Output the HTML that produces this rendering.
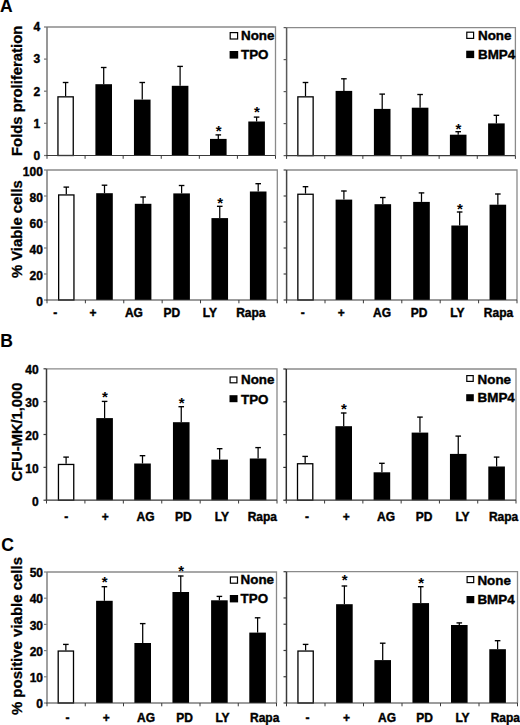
<!DOCTYPE html>
<html><head><meta charset="utf-8"><title>Figure</title>
<style>
html,body{margin:0;padding:0;background:#fff;}
body{width:520px;height:725px;overflow:hidden;}
svg{display:block;}
text{font-family:"Liberation Sans", sans-serif;font-weight:bold;fill:#000;stroke:#000;stroke-width:0.4px;}
.lg{font-size:13.4px;}
.xl{font-size:12px;}
.yl{font-size:12px;}
.yt{font-size:15px;stroke-width:0.3px;}
.let{font-size:17.5px;stroke-width:0.1px;}
.ast{font-size:15px;stroke-width:0;}
</style></head>
<body>
<svg width="520" height="725" viewBox="0 0 520 725">
<rect width="520" height="725" fill="#fff"/>
<path d="M47 27H275.5V155.5" fill="none" stroke="#8a8a8a" stroke-width="1.3"/>
<rect x="57.95" y="96.85" width="15.3" height="58.65" fill="#fff" stroke="#000" stroke-width="1.3"/>
<path d="M65.6 96.2V82.3" stroke="#000" stroke-width="1.25" fill="none"/>
<path d="M62.8 82.5H68.4" stroke="#000" stroke-width="1.35" fill="none"/>
<rect x="95.4" y="84.2" width="16.6" height="71.3" fill="#000"/>
<path d="M103.7 84.2V67.3" stroke="#000" stroke-width="1.25" fill="none"/>
<path d="M100.9 67.5H106.5" stroke="#000" stroke-width="1.35" fill="none"/>
<rect x="133.95" y="99.6" width="16.6" height="55.9" fill="#000"/>
<path d="M142.25 99.6V82.3" stroke="#000" stroke-width="1.25" fill="none"/>
<path d="M139.45 82.5H145.05" stroke="#000" stroke-width="1.35" fill="none"/>
<rect x="171.8" y="85.8" width="16.6" height="69.7" fill="#000"/>
<path d="M180.1 85.8V66.2" stroke="#000" stroke-width="1.25" fill="none"/>
<path d="M177.3 66.4H182.9" stroke="#000" stroke-width="1.35" fill="none"/>
<rect x="210" y="138.9" width="16.6" height="16.6" fill="#000"/>
<path d="M218.3 138.9V134.7" stroke="#000" stroke-width="1.25" fill="none"/>
<path d="M215.5 134.9H221.1" stroke="#000" stroke-width="1.35" fill="none"/>
<text x="218.6" y="135.9" text-anchor="middle" class="ast">*</text>
<rect x="248.3" y="121.5" width="16.6" height="34" fill="#000"/>
<path d="M256.6 121.5V116.9" stroke="#000" stroke-width="1.25" fill="none"/>
<path d="M253.8 117.1H259.4" stroke="#000" stroke-width="1.35" fill="none"/>
<text x="256.9" y="116.8" text-anchor="middle" class="ast">*</text>
<path d="M47 27V155.5" stroke="#747474" stroke-width="1.5" fill="none"/>
<path d="M44 27H47" stroke="#747474" stroke-width="1.2"/>
<path d="M44 59.1H47" stroke="#747474" stroke-width="1.2"/>
<path d="M44 91.2H47" stroke="#747474" stroke-width="1.2"/>
<path d="M44 123.3H47" stroke="#747474" stroke-width="1.2"/>
<path d="M44 155.5H47" stroke="#747474" stroke-width="1.2"/>
<path d="M46.3 155.5H275.5" stroke="#3a3a3a" stroke-width="1.2"/>
<path d="M47 155.5V158.8" stroke="#3a3a3a" stroke-width="1"/>
<path d="M85.08 155.5V158.8" stroke="#3a3a3a" stroke-width="1"/>
<path d="M123.17 155.5V158.8" stroke="#3a3a3a" stroke-width="1"/>
<path d="M161.25 155.5V158.8" stroke="#3a3a3a" stroke-width="1"/>
<path d="M199.33 155.5V158.8" stroke="#3a3a3a" stroke-width="1"/>
<path d="M237.42 155.5V158.8" stroke="#3a3a3a" stroke-width="1"/>
<path d="M275.5 155.5V158.8" stroke="#3a3a3a" stroke-width="1"/>
<path d="M286.6 27.6H515.4V155.6" fill="none" stroke="#8a8a8a" stroke-width="1.3"/>
<rect x="297.85" y="96.85" width="15.3" height="58.75" fill="#fff" stroke="#000" stroke-width="1.3"/>
<path d="M305.5 96.2V82.3" stroke="#000" stroke-width="1.25" fill="none"/>
<path d="M302.7 82.5H308.3" stroke="#000" stroke-width="1.35" fill="none"/>
<rect x="335.6" y="90.9" width="16.6" height="64.7" fill="#000"/>
<path d="M343.9 90.9V78.6" stroke="#000" stroke-width="1.25" fill="none"/>
<path d="M341.1 78.8H346.7" stroke="#000" stroke-width="1.35" fill="none"/>
<rect x="373.9" y="108.9" width="16.6" height="46.7" fill="#000"/>
<path d="M382.2 108.9V93.9" stroke="#000" stroke-width="1.25" fill="none"/>
<path d="M379.4 94.1H385" stroke="#000" stroke-width="1.35" fill="none"/>
<rect x="411.8" y="107.7" width="16.6" height="47.9" fill="#000"/>
<path d="M420.1 107.7V94.3" stroke="#000" stroke-width="1.25" fill="none"/>
<path d="M417.3 94.5H422.9" stroke="#000" stroke-width="1.35" fill="none"/>
<rect x="449.9" y="134.7" width="16.6" height="20.9" fill="#000"/>
<path d="M458.2 134.7V131.5" stroke="#000" stroke-width="1.25" fill="none"/>
<path d="M455.4 131.7H461" stroke="#000" stroke-width="1.35" fill="none"/>
<text x="458.5" y="133.6" text-anchor="middle" class="ast">*</text>
<rect x="488.1" y="123.4" width="16.6" height="32.2" fill="#000"/>
<path d="M496.4 123.4V115.1" stroke="#000" stroke-width="1.25" fill="none"/>
<path d="M493.6 115.3H499.2" stroke="#000" stroke-width="1.35" fill="none"/>
<path d="M286.6 27.6V155.6" stroke="#5a5a5a" stroke-width="1.5" fill="none"/>
<path d="M283.6 27.6H286.6" stroke="#5a5a5a" stroke-width="1.2"/>
<path d="M283.6 59.6H286.6" stroke="#5a5a5a" stroke-width="1.2"/>
<path d="M283.6 91.6H286.6" stroke="#5a5a5a" stroke-width="1.2"/>
<path d="M283.6 123.6H286.6" stroke="#5a5a5a" stroke-width="1.2"/>
<path d="M283.6 155.6H286.6" stroke="#5a5a5a" stroke-width="1.2"/>
<path d="M285.9 155.6H515.4" stroke="#3a3a3a" stroke-width="1.2"/>
<path d="M286.6 155.6V158.9" stroke="#3a3a3a" stroke-width="1"/>
<path d="M324.73 155.6V158.9" stroke="#3a3a3a" stroke-width="1"/>
<path d="M362.87 155.6V158.9" stroke="#3a3a3a" stroke-width="1"/>
<path d="M401 155.6V158.9" stroke="#3a3a3a" stroke-width="1"/>
<path d="M439.13 155.6V158.9" stroke="#3a3a3a" stroke-width="1"/>
<path d="M477.27 155.6V158.9" stroke="#3a3a3a" stroke-width="1"/>
<path d="M515.4 155.6V158.9" stroke="#3a3a3a" stroke-width="1"/>
<path d="M47 170H277.3V300" fill="none" stroke="#8a8a8a" stroke-width="1.3"/>
<rect x="58.65" y="194.95" width="15.3" height="105.05" fill="#fff" stroke="#000" stroke-width="1.3"/>
<path d="M66.3 194.3V186.9" stroke="#000" stroke-width="1.25" fill="none"/>
<path d="M63.5 187.1H69.1" stroke="#000" stroke-width="1.35" fill="none"/>
<rect x="96.2" y="193.2" width="16.6" height="106.8" fill="#000"/>
<path d="M104.5 193.2V185" stroke="#000" stroke-width="1.25" fill="none"/>
<path d="M101.7 185.2H107.3" stroke="#000" stroke-width="1.35" fill="none"/>
<rect x="134.8" y="203.8" width="16.6" height="96.2" fill="#000"/>
<path d="M143.1 203.8V196.8" stroke="#000" stroke-width="1.25" fill="none"/>
<path d="M140.3 197H145.9" stroke="#000" stroke-width="1.35" fill="none"/>
<rect x="173.3" y="193.4" width="16.6" height="106.6" fill="#000"/>
<path d="M181.6 193.4V185.3" stroke="#000" stroke-width="1.25" fill="none"/>
<path d="M178.8 185.5H184.4" stroke="#000" stroke-width="1.35" fill="none"/>
<rect x="211.45" y="218.1" width="16.6" height="81.9" fill="#000"/>
<path d="M219.75 218.1V206.1" stroke="#000" stroke-width="1.25" fill="none"/>
<path d="M216.95 206.3H222.55" stroke="#000" stroke-width="1.35" fill="none"/>
<text x="220.05" y="207.5" text-anchor="middle" class="ast">*</text>
<rect x="249.9" y="191.5" width="16.6" height="108.5" fill="#000"/>
<path d="M258.2 191.5V183.5" stroke="#000" stroke-width="1.25" fill="none"/>
<path d="M255.4 183.7H261" stroke="#000" stroke-width="1.35" fill="none"/>
<path d="M47 170V300" stroke="#7c7c7c" stroke-width="1.5" fill="none"/>
<path d="M44 170H47" stroke="#7c7c7c" stroke-width="1.2"/>
<path d="M44 196H47" stroke="#7c7c7c" stroke-width="1.2"/>
<path d="M44 222H47" stroke="#7c7c7c" stroke-width="1.2"/>
<path d="M44 248H47" stroke="#7c7c7c" stroke-width="1.2"/>
<path d="M44 274H47" stroke="#7c7c7c" stroke-width="1.2"/>
<path d="M44 300H47" stroke="#7c7c7c" stroke-width="1.2"/>
<path d="M46.3 300H277.3" stroke="#3a3a3a" stroke-width="1.2"/>
<path d="M47 300V303.3" stroke="#3a3a3a" stroke-width="1"/>
<path d="M85.38 300V303.3" stroke="#3a3a3a" stroke-width="1"/>
<path d="M123.77 300V303.3" stroke="#3a3a3a" stroke-width="1"/>
<path d="M162.15 300V303.3" stroke="#3a3a3a" stroke-width="1"/>
<path d="M200.53 300V303.3" stroke="#3a3a3a" stroke-width="1"/>
<path d="M238.92 300V303.3" stroke="#3a3a3a" stroke-width="1"/>
<path d="M277.3 300V303.3" stroke="#3a3a3a" stroke-width="1"/>
<path d="M286.6 170H517V300" fill="none" stroke="#8a8a8a" stroke-width="1.3"/>
<rect x="297.85" y="194.25" width="15.3" height="105.75" fill="#fff" stroke="#000" stroke-width="1.3"/>
<path d="M305.5 193.6V186.5" stroke="#000" stroke-width="1.25" fill="none"/>
<path d="M302.7 186.7H308.3" stroke="#000" stroke-width="1.35" fill="none"/>
<rect x="335.6" y="199.6" width="16.6" height="100.4" fill="#000"/>
<path d="M343.9 199.6V190.8" stroke="#000" stroke-width="1.25" fill="none"/>
<path d="M341.1 191H346.7" stroke="#000" stroke-width="1.35" fill="none"/>
<rect x="374.5" y="204.2" width="16.6" height="95.8" fill="#000"/>
<path d="M382.8 204.2V197.3" stroke="#000" stroke-width="1.25" fill="none"/>
<path d="M380 197.5H385.6" stroke="#000" stroke-width="1.35" fill="none"/>
<rect x="413.2" y="201.9" width="16.6" height="98.1" fill="#000"/>
<path d="M421.5 201.9V192.7" stroke="#000" stroke-width="1.25" fill="none"/>
<path d="M418.7 192.9H424.3" stroke="#000" stroke-width="1.35" fill="none"/>
<rect x="451.35" y="225.5" width="16.6" height="74.5" fill="#000"/>
<path d="M459.65 225.5V211.8" stroke="#000" stroke-width="1.25" fill="none"/>
<path d="M456.85 212H462.45" stroke="#000" stroke-width="1.35" fill="none"/>
<text x="459.95" y="213.9" text-anchor="middle" class="ast">*</text>
<rect x="489.55" y="204.7" width="16.6" height="95.3" fill="#000"/>
<path d="M497.85 204.7V193.8" stroke="#000" stroke-width="1.25" fill="none"/>
<path d="M495.05 194H500.65" stroke="#000" stroke-width="1.35" fill="none"/>
<path d="M286.6 170V300" stroke="#454545" stroke-width="1.5" fill="none"/>
<path d="M283.6 170H286.6" stroke="#454545" stroke-width="1.2"/>
<path d="M283.6 196H286.6" stroke="#454545" stroke-width="1.2"/>
<path d="M283.6 222H286.6" stroke="#454545" stroke-width="1.2"/>
<path d="M283.6 248H286.6" stroke="#454545" stroke-width="1.2"/>
<path d="M283.6 274H286.6" stroke="#454545" stroke-width="1.2"/>
<path d="M283.6 300H286.6" stroke="#454545" stroke-width="1.2"/>
<path d="M285.9 300H517" stroke="#3a3a3a" stroke-width="1.2"/>
<path d="M286.6 300V303.3" stroke="#3a3a3a" stroke-width="1"/>
<path d="M325 300V303.3" stroke="#3a3a3a" stroke-width="1"/>
<path d="M363.4 300V303.3" stroke="#3a3a3a" stroke-width="1"/>
<path d="M401.8 300V303.3" stroke="#3a3a3a" stroke-width="1"/>
<path d="M440.2 300V303.3" stroke="#3a3a3a" stroke-width="1"/>
<path d="M478.6 300V303.3" stroke="#3a3a3a" stroke-width="1"/>
<path d="M517 300V303.3" stroke="#3a3a3a" stroke-width="1"/>
<path d="M46.5 368.8H277V500.2" fill="none" stroke="#8a8a8a" stroke-width="1.3"/>
<rect x="58.45" y="464.45" width="15.3" height="35.75" fill="#fff" stroke="#000" stroke-width="1.3"/>
<path d="M66.1 463.8V456.9" stroke="#000" stroke-width="1.25" fill="none"/>
<path d="M63.3 457.1H68.9" stroke="#000" stroke-width="1.35" fill="none"/>
<rect x="96.3" y="418.1" width="16.6" height="82.1" fill="#000"/>
<path d="M104.6 418.1V401.2" stroke="#000" stroke-width="1.25" fill="none"/>
<path d="M101.8 401.4H107.4" stroke="#000" stroke-width="1.35" fill="none"/>
<text x="104.9" y="402.4" text-anchor="middle" class="ast">*</text>
<rect x="134.2" y="463.5" width="16.6" height="36.7" fill="#000"/>
<path d="M142.5 463.5V455.5" stroke="#000" stroke-width="1.25" fill="none"/>
<path d="M139.7 455.7H145.3" stroke="#000" stroke-width="1.35" fill="none"/>
<rect x="172.95" y="422.2" width="16.6" height="78" fill="#000"/>
<path d="M181.25 422.2V406.5" stroke="#000" stroke-width="1.25" fill="none"/>
<path d="M178.45 406.7H184.05" stroke="#000" stroke-width="1.35" fill="none"/>
<text x="181.55" y="408.2" text-anchor="middle" class="ast">*</text>
<rect x="211.35" y="459.6" width="16.6" height="40.6" fill="#000"/>
<path d="M219.65 459.6V448.5" stroke="#000" stroke-width="1.25" fill="none"/>
<path d="M216.85 448.7H222.45" stroke="#000" stroke-width="1.35" fill="none"/>
<rect x="249.8" y="458.5" width="16.6" height="41.7" fill="#000"/>
<path d="M258.1 458.5V447.4" stroke="#000" stroke-width="1.25" fill="none"/>
<path d="M255.3 447.6H260.9" stroke="#000" stroke-width="1.35" fill="none"/>
<path d="M46.5 368.8V500.2" stroke="#3a3a3a" stroke-width="1.5" fill="none"/>
<path d="M43.5 368.8H46.5" stroke="#3a3a3a" stroke-width="1.2"/>
<path d="M43.5 401.65H46.5" stroke="#3a3a3a" stroke-width="1.2"/>
<path d="M43.5 434.5H46.5" stroke="#3a3a3a" stroke-width="1.2"/>
<path d="M43.5 467.35H46.5" stroke="#3a3a3a" stroke-width="1.2"/>
<path d="M43.5 500.2H46.5" stroke="#3a3a3a" stroke-width="1.2"/>
<path d="M45.8 500.2H277" stroke="#3a3a3a" stroke-width="1.2"/>
<path d="M46.5 500.2V503.5" stroke="#3a3a3a" stroke-width="1"/>
<path d="M84.92 500.2V503.5" stroke="#3a3a3a" stroke-width="1"/>
<path d="M123.33 500.2V503.5" stroke="#3a3a3a" stroke-width="1"/>
<path d="M161.75 500.2V503.5" stroke="#3a3a3a" stroke-width="1"/>
<path d="M200.17 500.2V503.5" stroke="#3a3a3a" stroke-width="1"/>
<path d="M238.58 500.2V503.5" stroke="#3a3a3a" stroke-width="1"/>
<path d="M277 500.2V503.5" stroke="#3a3a3a" stroke-width="1"/>
<path d="M286.3 369H516V500.2" fill="none" stroke="#8a8a8a" stroke-width="1.3"/>
<rect x="297.5" y="463.75" width="15.3" height="36.45" fill="#fff" stroke="#000" stroke-width="1.3"/>
<path d="M305.15 463.1V456.2" stroke="#000" stroke-width="1.25" fill="none"/>
<path d="M302.35 456.4H307.95" stroke="#000" stroke-width="1.35" fill="none"/>
<rect x="335.4" y="426.2" width="16.6" height="74" fill="#000"/>
<path d="M343.7 426.2V412.8" stroke="#000" stroke-width="1.25" fill="none"/>
<path d="M340.9 413H346.5" stroke="#000" stroke-width="1.35" fill="none"/>
<text x="344" y="414.4" text-anchor="middle" class="ast">*</text>
<rect x="373.6" y="472.3" width="16.6" height="27.9" fill="#000"/>
<path d="M381.9 472.3V463.1" stroke="#000" stroke-width="1.25" fill="none"/>
<path d="M379.1 463.3H384.7" stroke="#000" stroke-width="1.35" fill="none"/>
<rect x="411.65" y="432.6" width="16.6" height="67.6" fill="#000"/>
<path d="M419.95 432.6V416.9" stroke="#000" stroke-width="1.25" fill="none"/>
<path d="M417.15 417.1H422.75" stroke="#000" stroke-width="1.35" fill="none"/>
<rect x="449.95" y="453.9" width="16.6" height="46.3" fill="#000"/>
<path d="M458.25 453.9V435.9" stroke="#000" stroke-width="1.25" fill="none"/>
<path d="M455.45 436.1H461.05" stroke="#000" stroke-width="1.35" fill="none"/>
<rect x="488.3" y="466.5" width="16.6" height="33.7" fill="#000"/>
<path d="M496.6 466.5V456.9" stroke="#000" stroke-width="1.25" fill="none"/>
<path d="M493.8 457.1H499.4" stroke="#000" stroke-width="1.35" fill="none"/>
<path d="M286.3 369V500.2" stroke="#2c2c2c" stroke-width="1.5" fill="none"/>
<path d="M283.3 369H286.3" stroke="#2c2c2c" stroke-width="1.2"/>
<path d="M283.3 401.8H286.3" stroke="#2c2c2c" stroke-width="1.2"/>
<path d="M283.3 434.6H286.3" stroke="#2c2c2c" stroke-width="1.2"/>
<path d="M283.3 467.4H286.3" stroke="#2c2c2c" stroke-width="1.2"/>
<path d="M283.3 500.2H286.3" stroke="#2c2c2c" stroke-width="1.2"/>
<path d="M285.6 500.2H516" stroke="#3a3a3a" stroke-width="1.2"/>
<path d="M286.3 500.2V503.5" stroke="#3a3a3a" stroke-width="1"/>
<path d="M324.58 500.2V503.5" stroke="#3a3a3a" stroke-width="1"/>
<path d="M362.87 500.2V503.5" stroke="#3a3a3a" stroke-width="1"/>
<path d="M401.15 500.2V503.5" stroke="#3a3a3a" stroke-width="1"/>
<path d="M439.43 500.2V503.5" stroke="#3a3a3a" stroke-width="1"/>
<path d="M477.72 500.2V503.5" stroke="#3a3a3a" stroke-width="1"/>
<path d="M516 500.2V503.5" stroke="#3a3a3a" stroke-width="1"/>
<path d="M47 572H276.5V703" fill="none" stroke="#8a8a8a" stroke-width="1.3"/>
<rect x="58.2" y="651.05" width="15.3" height="51.95" fill="#fff" stroke="#000" stroke-width="1.3"/>
<path d="M65.85 650.4V644.2" stroke="#000" stroke-width="1.25" fill="none"/>
<path d="M63.05 644.4H68.65" stroke="#000" stroke-width="1.35" fill="none"/>
<rect x="96.1" y="600.8" width="16.6" height="102.2" fill="#000"/>
<path d="M104.4 600.8V586.5" stroke="#000" stroke-width="1.25" fill="none"/>
<path d="M101.6 586.7H107.2" stroke="#000" stroke-width="1.35" fill="none"/>
<text x="104.7" y="587.2" text-anchor="middle" class="ast">*</text>
<rect x="134.4" y="643" width="16.6" height="60" fill="#000"/>
<path d="M142.7 643V623.4" stroke="#000" stroke-width="1.25" fill="none"/>
<path d="M139.9 623.6H145.5" stroke="#000" stroke-width="1.35" fill="none"/>
<rect x="172.45" y="592" width="16.6" height="111" fill="#000"/>
<path d="M180.75 592V575.8" stroke="#000" stroke-width="1.25" fill="none"/>
<path d="M177.95 576H183.55" stroke="#000" stroke-width="1.35" fill="none"/>
<text x="181.05" y="575.7" text-anchor="middle" class="ast">*</text>
<rect x="211.1" y="600.3" width="16.6" height="102.7" fill="#000"/>
<path d="M219.4 600.3V596.2" stroke="#000" stroke-width="1.25" fill="none"/>
<path d="M216.6 596.4H222.2" stroke="#000" stroke-width="1.35" fill="none"/>
<rect x="249.3" y="632.6" width="16.6" height="70.4" fill="#000"/>
<path d="M257.6 632.6V617.6" stroke="#000" stroke-width="1.25" fill="none"/>
<path d="M254.8 617.8H260.4" stroke="#000" stroke-width="1.35" fill="none"/>
<path d="M47 572V703" stroke="#808080" stroke-width="1.5" fill="none"/>
<path d="M44 572H47" stroke="#808080" stroke-width="1.2"/>
<path d="M44 598.2H47" stroke="#808080" stroke-width="1.2"/>
<path d="M44 624.4H47" stroke="#808080" stroke-width="1.2"/>
<path d="M44 650.6H47" stroke="#808080" stroke-width="1.2"/>
<path d="M44 676.8H47" stroke="#808080" stroke-width="1.2"/>
<path d="M44 703H47" stroke="#808080" stroke-width="1.2"/>
<path d="M46.3 703H276.5" stroke="#3a3a3a" stroke-width="1.2"/>
<path d="M47 703V706.3" stroke="#3a3a3a" stroke-width="1"/>
<path d="M85.25 703V706.3" stroke="#3a3a3a" stroke-width="1"/>
<path d="M123.5 703V706.3" stroke="#3a3a3a" stroke-width="1"/>
<path d="M161.75 703V706.3" stroke="#3a3a3a" stroke-width="1"/>
<path d="M200 703V706.3" stroke="#3a3a3a" stroke-width="1"/>
<path d="M238.25 703V706.3" stroke="#3a3a3a" stroke-width="1"/>
<path d="M276.5 703V706.3" stroke="#3a3a3a" stroke-width="1"/>
<path d="M286.5 571.7H517.5V703" fill="none" stroke="#8a8a8a" stroke-width="1.3"/>
<rect x="297.95" y="651.05" width="15.3" height="51.95" fill="#fff" stroke="#000" stroke-width="1.3"/>
<path d="M305.6 650.4V644.2" stroke="#000" stroke-width="1.25" fill="none"/>
<path d="M302.8 644.4H308.4" stroke="#000" stroke-width="1.35" fill="none"/>
<rect x="336.1" y="604.2" width="16.6" height="98.8" fill="#000"/>
<path d="M344.4 604.2V585.8" stroke="#000" stroke-width="1.25" fill="none"/>
<path d="M341.6 586H347.2" stroke="#000" stroke-width="1.35" fill="none"/>
<text x="344.7" y="584.9" text-anchor="middle" class="ast">*</text>
<rect x="374.4" y="660.1" width="16.6" height="42.9" fill="#000"/>
<path d="M382.7 660.1V643" stroke="#000" stroke-width="1.25" fill="none"/>
<path d="M379.9 643.2H385.5" stroke="#000" stroke-width="1.35" fill="none"/>
<rect x="412.45" y="603.1" width="16.6" height="99.9" fill="#000"/>
<path d="M420.75 603.1V586.5" stroke="#000" stroke-width="1.25" fill="none"/>
<path d="M417.95 586.7H423.55" stroke="#000" stroke-width="1.35" fill="none"/>
<text x="421.05" y="587.9" text-anchor="middle" class="ast">*</text>
<rect x="451" y="625" width="16.6" height="78" fill="#000"/>
<path d="M459.3 625V622.7" stroke="#000" stroke-width="1.25" fill="none"/>
<path d="M456.5 622.9H462.1" stroke="#000" stroke-width="1.35" fill="none"/>
<rect x="489.3" y="649.2" width="16.6" height="53.8" fill="#000"/>
<path d="M497.6 649.2V640.5" stroke="#000" stroke-width="1.25" fill="none"/>
<path d="M494.8 640.7H500.4" stroke="#000" stroke-width="1.35" fill="none"/>
<path d="M286.5 571.7V703" stroke="#3a3a3a" stroke-width="1.5" fill="none"/>
<path d="M283.5 571.7H286.5" stroke="#3a3a3a" stroke-width="1.2"/>
<path d="M283.5 597.96H286.5" stroke="#3a3a3a" stroke-width="1.2"/>
<path d="M283.5 624.22H286.5" stroke="#3a3a3a" stroke-width="1.2"/>
<path d="M283.5 650.48H286.5" stroke="#3a3a3a" stroke-width="1.2"/>
<path d="M283.5 676.74H286.5" stroke="#3a3a3a" stroke-width="1.2"/>
<path d="M283.5 703H286.5" stroke="#3a3a3a" stroke-width="1.2"/>
<path d="M285.8 703H517.5" stroke="#3a3a3a" stroke-width="1.2"/>
<path d="M286.5 703V706.3" stroke="#3a3a3a" stroke-width="1"/>
<path d="M325 703V706.3" stroke="#3a3a3a" stroke-width="1"/>
<path d="M363.5 703V706.3" stroke="#3a3a3a" stroke-width="1"/>
<path d="M402 703V706.3" stroke="#3a3a3a" stroke-width="1"/>
<path d="M440.5 703V706.3" stroke="#3a3a3a" stroke-width="1"/>
<path d="M479 703V706.3" stroke="#3a3a3a" stroke-width="1"/>
<path d="M517.5 703V706.3" stroke="#3a3a3a" stroke-width="1"/>
<rect x="230.2" y="32.6" width="7.4" height="6.4" fill="#fff" stroke="#000" stroke-width="1.2"/>
<rect x="229.6" y="51" width="8.6" height="7.6" fill="#000"/>
<text x="241" y="39.7" class="lg">None</text>
<text x="241" y="59.4" class="lg">TPO</text>
<rect x="466.8" y="32.2" width="6.8" height="6.2" fill="#fff" stroke="#000" stroke-width="1.2"/>
<rect x="466.2" y="50.7" width="8" height="7.4" fill="#000"/>
<text x="478" y="39.7" class="lg">None</text>
<text x="478" y="59.3" class="lg">BMP4</text>
<rect x="230.1" y="377" width="6.8" height="5.8" fill="#fff" stroke="#000" stroke-width="1.2"/>
<rect x="229.5" y="395.2" width="8" height="7" fill="#000"/>
<text x="241" y="384.1" class="lg">None</text>
<text x="241" y="403.5" class="lg">TPO</text>
<rect x="466.8" y="375.6" width="6.4" height="5.8" fill="#fff" stroke="#000" stroke-width="1.2"/>
<rect x="466.2" y="394.2" width="7.6" height="7" fill="#000"/>
<text x="477.6" y="383.5" class="lg">None</text>
<text x="477.6" y="402" class="lg">BMP4</text>
<rect x="230.4" y="577" width="7.1" height="6.2" fill="#fff" stroke="#000" stroke-width="1.2"/>
<rect x="229.8" y="595" width="8.3" height="7.4" fill="#000"/>
<text x="240.6" y="584.2" class="lg">None</text>
<text x="240.6" y="603" class="lg">TPO</text>
<rect x="467.1" y="576.6" width="6.6" height="6" fill="#fff" stroke="#000" stroke-width="1.2"/>
<rect x="466.5" y="596" width="7.8" height="7.2" fill="#000"/>
<text x="477.4" y="584.5" class="lg">None</text>
<text x="477.4" y="604" class="lg">BMP4</text>
<text x="53.2" y="317" class="xl">-</text>
<text x="89.6" y="317" class="xl">+</text>
<text x="124.9" y="317" class="xl">AG</text>
<text x="163.5" y="317" class="xl">PD</text>
<text x="202.7" y="317" class="xl">LY</text>
<text x="236.2" y="317" class="xl">Rapa</text>
<text x="300.8" y="317" class="xl">-</text>
<text x="337.7" y="317" class="xl">+</text>
<text x="373" y="317" class="xl">AG</text>
<text x="410.8" y="317" class="xl">PD</text>
<text x="450.3" y="317" class="xl">LY</text>
<text x="483.8" y="317" class="xl">Rapa</text>
<text x="64.2" y="520.7" class="xl">-</text>
<text x="101.8" y="520.7" class="xl">+</text>
<text x="136.5" y="520.7" class="xl">AG</text>
<text x="175" y="520.7" class="xl">PD</text>
<text x="214.7" y="520.7" class="xl">LY</text>
<text x="247.7" y="520.7" class="xl">Rapa</text>
<text x="304.9" y="520.7" class="xl">-</text>
<text x="342.8" y="520.7" class="xl">+</text>
<text x="377" y="520.7" class="xl">AG</text>
<text x="415.7" y="520.7" class="xl">PD</text>
<text x="455.4" y="520.7" class="xl">LY</text>
<text x="488.9" y="520.7" class="xl">Rapa</text>
<text x="65.4" y="722.4" class="xl">-</text>
<text x="102.8" y="722.4" class="xl">+</text>
<text x="137" y="722.4" class="xl">AG</text>
<text x="176.2" y="722.4" class="xl">PD</text>
<text x="215.4" y="722.4" class="xl">LY</text>
<text x="250" y="722.4" class="xl">Rapa</text>
<text x="305.4" y="722.4" class="xl">-</text>
<text x="343" y="722.4" class="xl">+</text>
<text x="378" y="722.4" class="xl">AG</text>
<text x="416.2" y="722.4" class="xl">PD</text>
<text x="455.4" y="722.4" class="xl">LY</text>
<text x="490.7" y="722.4" class="xl">Rapa</text>
<text x="40.3" y="31.3" text-anchor="end" class="yl">4</text>
<text x="40.3" y="63.4" text-anchor="end" class="yl">3</text>
<text x="40.3" y="95.5" text-anchor="end" class="yl">2</text>
<text x="40.3" y="127.6" text-anchor="end" class="yl">1</text>
<text x="40.3" y="159.8" text-anchor="end" class="yl">0</text>
<text x="42.9" y="176.1" text-anchor="end" class="yl">100</text>
<text x="42.9" y="202.1" text-anchor="end" class="yl">80</text>
<text x="42.9" y="228.1" text-anchor="end" class="yl">60</text>
<text x="42.9" y="254.1" text-anchor="end" class="yl">40</text>
<text x="42.9" y="280.1" text-anchor="end" class="yl">20</text>
<text x="42.9" y="306.1" text-anchor="end" class="yl">0</text>
<text x="38.6" y="374.1" text-anchor="end" class="yl">40</text>
<text x="38.6" y="406.95" text-anchor="end" class="yl">30</text>
<text x="38.6" y="439.8" text-anchor="end" class="yl">20</text>
<text x="38.6" y="472.65" text-anchor="end" class="yl">10</text>
<text x="38.6" y="505.5" text-anchor="end" class="yl">0</text>
<text x="43" y="577.1" text-anchor="end" class="yl">50</text>
<text x="43" y="603.3" text-anchor="end" class="yl">40</text>
<text x="43" y="629.5" text-anchor="end" class="yl">30</text>
<text x="43" y="655.7" text-anchor="end" class="yl">20</text>
<text x="43" y="681.9" text-anchor="end" class="yl">10</text>
<text x="43" y="708.1" text-anchor="end" class="yl">0</text>
<text transform="translate(21.6 156) rotate(-90)" class="yt" style="font-size:14.85px">Folds proliferation</text>
<text transform="translate(21.5 278.1) rotate(-90)" class="yt" style="font-size:14.85px">% Viable cells</text>
<text transform="translate(21.8 481.4) rotate(-90)" class="yt" style="font-size:14.7px">CFU-MK/1,000</text>
<text transform="translate(21.6 715.1) rotate(-90)" class="yt" style="font-size:14.97px">% positive viable cells</text>
<text x="0.1" y="12.4" class="let">A</text>
<text x="0.3" y="347.1" class="let">B</text>
<text x="1.3" y="550.6" class="let">C</text>
</svg>
</body></html>
